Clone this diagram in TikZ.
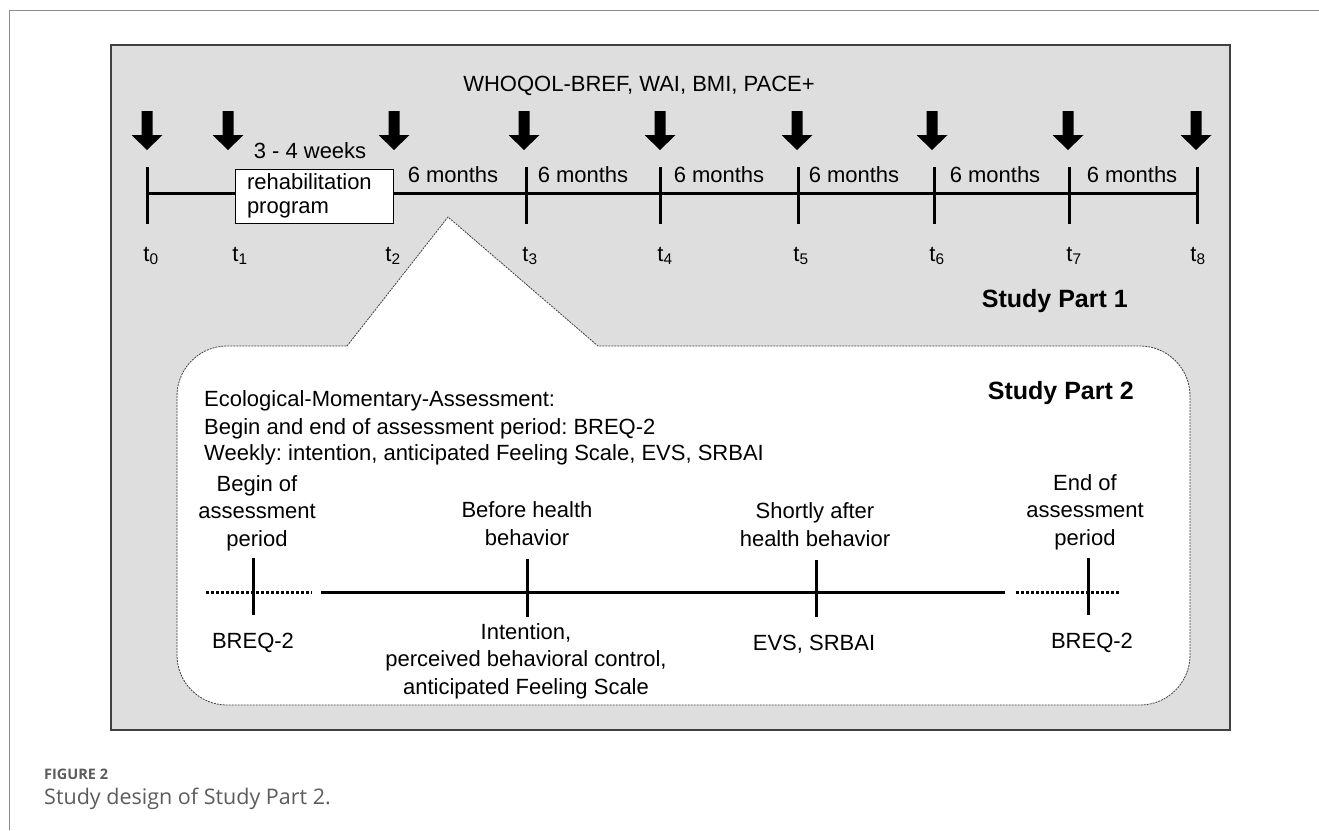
\documentclass[tikz,border=0pt]{standalone}
\usepackage{fontspec}
\setmainfont{Liberation Sans}
\newfontfamily\capfont{Open Sans}
\usetikzlibrary{calc}
\frenchspacing
\definecolor{boxgray}{HTML}{DEDEDE}
\definecolor{boxedge}{HTML}{404040}
\definecolor{framegray}{HTML}{8C8C8C}
\definecolor{capgray}{HTML}{5C5C5C}
\tikzset{
  txt/.style={inner sep=0pt, font=\fontsize{22bp}{27.5bp}\selectfont},
  boldtxt/.style={inner sep=0pt, font=\fontsize{25bp}{30bp}\selectfont\bfseries},
  tline/.style={line width=3bp},
  tickline/.style={line width=3bp},
  dotline/.style={line width=3bp, dash pattern=on 3bp off 2bp},
  bigarrow/.pic={\fill[black] (-5.5,0) -- (5.5,0) -- (5.5,24) -- (15.5,24) -- (0,39) -- (-15.5,24) -- (-5.5,24) -- cycle;},
}
\begin{document}
\begin{tikzpicture}[x=1bp,y=-1bp]
\useasboundingbox (0,0) rectangle (1319,830);
% outer frame
\draw[framegray, line width=1bp] (9,830) -- (9,10.5) -- (1319,10.5);
% grey panel
\draw[boxedge, fill=boxgray, line width=1.5bp] (111,45) rectangle (1230,730);

% top label
\node[txt, anchor=base] (who) at (639,91) {WHOQOL-BREF, WAI, BMI, PACE+};

% arrows
\foreach \x/\n in {147/0,228/1,394/2,524/3,660/4,797/5,932/6,1068/7,1196/8}
  \pic (arr\n) at (\x,111) {bigarrow};

% main timeline
\coordinate (T0) at (147,193);
\coordinate (T8) at (1197,193);
\draw[tline] (T0) -- (T8);
\foreach \x in {147,526,660,798,934,1069,1197}
  \draw[tickline] (\x,167) -- (\x,224);

\node[draw=black, fill=white, line width=1bp, minimum width=158bp, minimum height=54bp,
      text width=134bp, align=left, inner sep=0pt, font=\fontsize{22bp}{24bp}\selectfont]
      (rehab) at (314,196) {rehabilitation\\program};

\node[txt, anchor=base] (weeks) at (310,158) {3 - 4 weeks};
\foreach \x/\n in {453/1,583/2,719/3,854/4,995/5,1132/6}
  \node[txt, anchor=base] (m\n) at (\x,182) {6 months};

\foreach \x/\n in {151/0,240/1,393/2,530/3,665/4,801/5,937/6,1074/7,1198/8}
  \node[txt, anchor=base] (t\n) at (\x,261) {t\textsubscript{\n}};

\node[boldtxt, anchor=base east] (sp1) at (1128,307) {Study Part 1};

% callout
\draw[boxedge, fill=white, line width=0.8bp, dash pattern=on 2bp off 1bp]
  (347,346) -- (448,217) -- (598,346) -- (1140,346)
  .. controls (1167.6,346) and (1190,368.4) .. (1190,396) -- (1190,655)
  .. controls (1190,682.6) and (1167.6,705) .. (1140,705) -- (227,705)
  .. controls (199.4,705) and (177,682.6) .. (177,655) -- (177,396)
  .. controls (177,368.4) and (199.4,346) .. (227,346) -- cycle;

\node[boldtxt, anchor=base east] (sp2) at (1134,399) {Study Part 2};
\node[txt, anchor=base west] (ema1) at (204,406) {Ecological-Momentary-Assessment:};
\node[txt, anchor=base west] (ema2) at (204,434) {Begin and end of assessment period: BREQ-2};
\node[txt, anchor=base west] (ema3) at (204,460) {Weekly: intention, anticipated Feeling Scale, EVS, SRBAI};

% sub timeline
\coordinate (s0) at (206,592);
\coordinate (s1) at (312,592);
\coordinate (s2) at (321,592);
\coordinate (s3) at (1005,592);
\coordinate (s4) at (1016,592);
\coordinate (s5) at (1121,592);
\draw[dotline] (s0) -- (s1);
\draw[tline] (s2) -- (s3);
\draw[dotline] (s4) -- (s5);
\draw[tickline] (253,558) -- (253,615);
\draw[tickline] (527,559) -- (527,617);
\draw[tickline] (816,560) -- (816,617);
\draw[tickline] (1088,558) -- (1088,615);

% multi-line nodes: base = baseline of last line
\node[txt, anchor=base, align=center] (beg) at (257,546) {Begin of\\assessment\\period};
\node[txt, anchor=base, align=center] (bef) at (527,545) {Before health\\behavior};
\node[txt, anchor=base, align=center] (aft) at (815,546) {Shortly after\\health behavior};
\node[txt, anchor=base, align=center] (endp) at (1085,545) {End of\\assessment\\period};

\node[txt, anchor=base] (breq1) at (253,648) {BREQ-2};
\node[txt, anchor=base, align=center] (intn) at (526,694) {Intention,\\perceived behavioral control,\\anticipated Feeling Scale};
\node[txt, anchor=base] (evs) at (814,650) {EVS, SRBAI};
\node[txt, anchor=base] (breq2) at (1092,648) {BREQ-2};

% caption
\node[anchor=base west, inner sep=0pt, text=capgray, font=\capfont\bfseries\fontsize{14.5bp}{16bp}\selectfont] (figlab) at (44,779) {FIGURE 2};
\node[anchor=base west, inner sep=0pt, text=capgray, font=\capfont\fontsize{21.5bp}{24bp}\selectfont] (figcap) at (44,804) {Study design of Study Part 2.};
\end{tikzpicture}
\end{document}
